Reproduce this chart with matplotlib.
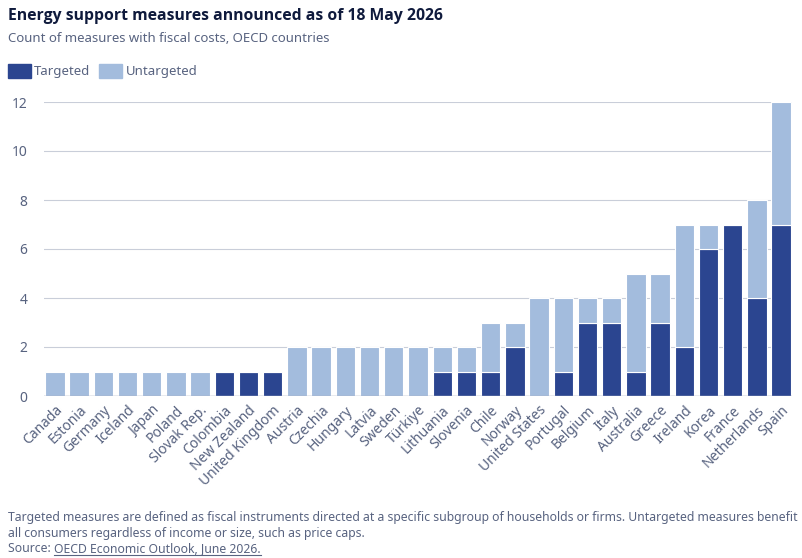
import matplotlib.pyplot as plt
import numpy as np
from matplotlib.patches import Rectangle
from matplotlib.lines import Line2D

countries = [
    "Canada", "Estonia", "Germany", "Iceland", "Japan", "Poland", "Slovak Rep.",
    "Colombia", "New Zealand", "United Kingdom", "Austria", "Czechia", "Hungary",
    "Latvia", "Sweden", "Türkiye", "Lithuania", "Slovenia", "Chile", "Norway",
    "United States", "Portugal", "Belgium", "Italy", "Australia", "Greece",
    "Ireland", "Korea", "France", "Netherlands", "Spain",
]
targeted = [0, 0, 0, 0, 0, 0, 0, 1, 1, 1, 0, 0, 0, 0, 0, 0, 1, 1, 1, 2,
            0, 1, 3, 3, 1, 3, 2, 6, 7, 4, 7]
untargeted = [1, 1, 1, 1, 1, 1, 1, 0, 0, 0, 2, 2, 2, 2, 2, 2, 1, 1, 2, 1,
              4, 3, 1, 1, 4, 2, 5, 1, 0, 4, 5]
y_ticks = [0, 2, 4, 6, 8, 10, 12]

dark = "#2b4590"
light = "#a3bcdd"
text_col = "#586380"
title_col = "#0f1a3c"

plt.rcParams["font.family"] = ["Noto Sans", "DejaVu Sans"]

W, H = 802, 558
fig = plt.figure(figsize=(W / 100, H / 100), dpi=100)
fig.patch.set_facecolor("white")

# axes placed in pixel terms
left, right, bottom, top = 44, 792, 396, 102
ax = fig.add_axes([left / W, 1 - bottom / H, (right - left) / W, (bottom - top) / H])

x = np.arange(len(countries))
t = np.array(targeted)
u = np.array(untargeted)
ax.bar(x, t, width=0.8, color=dark, edgecolor="white", linewidth=0.8, zorder=3)
ax.bar(x, u, bottom=t, width=0.8, color=light, edgecolor="white", linewidth=0.8, zorder=3)

ax.set_xlim(-0.45, len(countries) - 0.55)
ax.set_ylim(0, 12)
ax.set_yticks(y_ticks)
ax.set_yticklabels([str(v) for v in y_ticks], fontsize=10, color=text_col)
ax.set_xticks(x)
ax.set_xticklabels(countries, rotation=45, ha="right", rotation_mode="anchor",
                   fontsize=10, color=text_col)
ax.tick_params(axis="both", length=0)
ax.tick_params(axis="y", pad=12)
ax.tick_params(axis="x", pad=5)
for s in ax.spines.values():
    s.set_visible(False)
ax.grid(axis="y", color="#c9ced9", linewidth=0.8, zorder=0)
ax.axhline(0, color="#9aa3b8", linewidth=1, zorder=4)

fig.text(8 / W, 1 - 16 / H, "Energy support measures announced as of 18 May 2026",
         fontsize=11.3, fontweight="bold", family=["Open Sans", "DejaVu Sans"],
         color=title_col, va="center")
fig.text(8 / W, 1 - 39 / H, "Count of measures with fiscal costs, OECD countries",
         fontsize=9.5, color=text_col, va="center")

# legend
for xs, col, lab, tx in [(8, dark, "Targeted", 34), (99, light, "Untargeted", 126)]:
    fig.patches.append(Rectangle((xs / W, 1 - 78 / H), 23 / W, 14 / H,
                                 transform=fig.transFigure, color=col))
    fig.text(tx / W, 1 - 71 / H, lab, fontsize=9.5, color=text_col, va="center")

fs = 8.8
fig.text(8 / W, 1 - 517 / H,
         "Targeted measures are defined as fiscal instruments directed at a specific subgroup of households or firms. Untargeted measures benefit",
         fontsize=fs, color=text_col, va="center")
fig.text(8 / W, 1 - 533 / H,
         "all consumers regardless of income or size, such as price caps.",
         fontsize=fs, color=text_col, va="center")
src = fig.text(8 / W, 1 - 549 / H, "Source: ", fontsize=fs, color=text_col, va="center")
fig.canvas.draw()
bb = src.get_window_extent()
link = fig.text(bb.x1 / W, 1 - 549 / H, "OECD Economic Outlook, June 2026.",
                fontsize=fs, color=text_col, va="center")
fig.canvas.draw()
lb = link.get_window_extent()
fig.lines.append(Line2D([lb.x0 / W, lb.x1 / W], [(lb.y0 + 1) / H, (lb.y0 + 1) / H],
                        transform=fig.transFigure, color=text_col, linewidth=0.8))

fig.savefig("out.png", dpi=100, facecolor="white")
